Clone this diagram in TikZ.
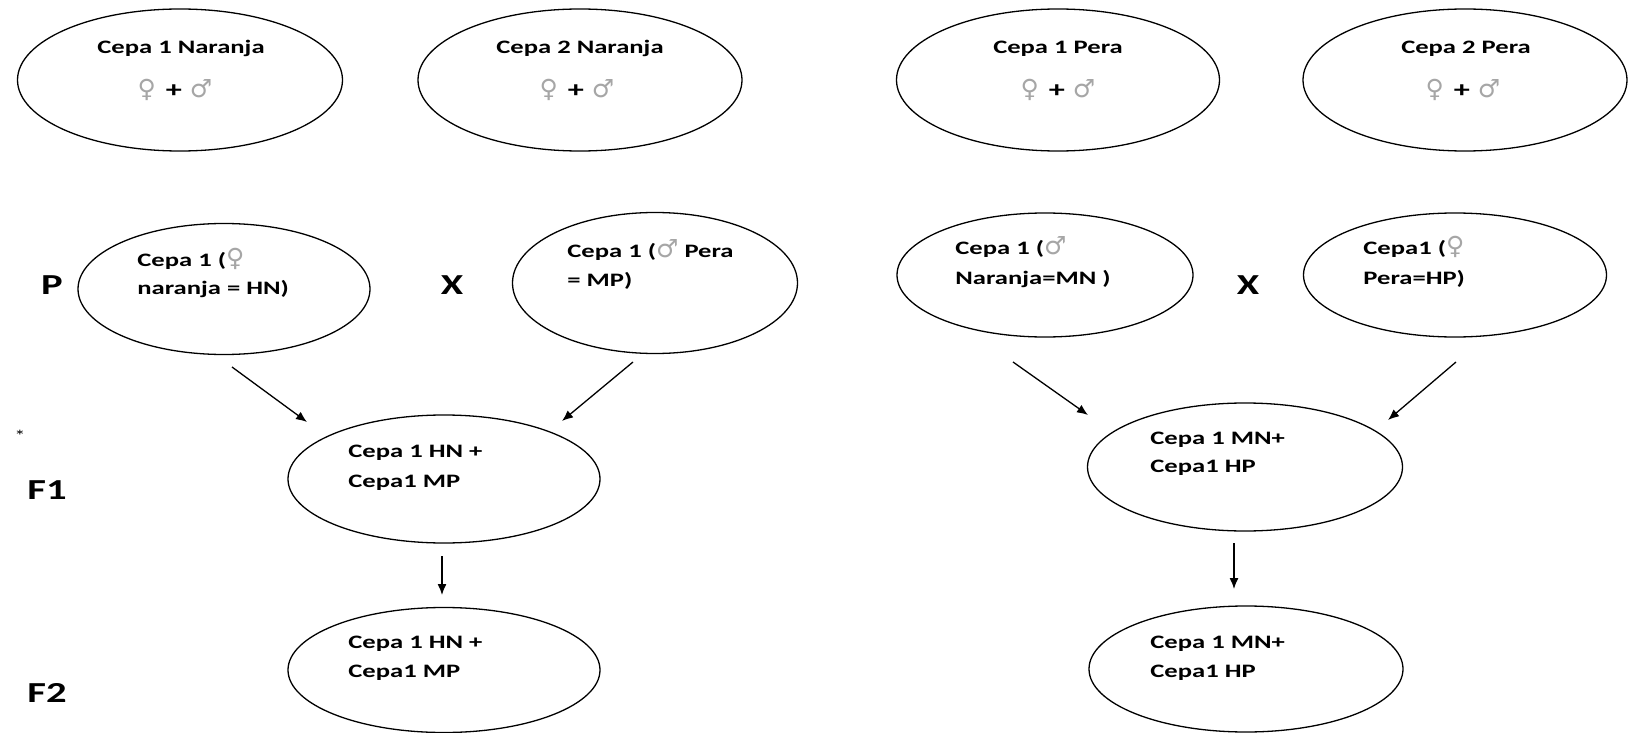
\documentclass[tikz,border=0pt]{standalone}
\usepackage{fontspec}
\setmainfont{Carlito}[FakeStretch=1.4]
\newfontfamily\symfont{DejaVu Sans}
\usetikzlibrary{shapes.geometric,arrows.meta}
\definecolor{symgray}{gray}{0.65}
\newcommand\femsym{{\symfont\fontsize{12.5}{14}\selectfont\color{symgray}\char"2640}}
\newcommand\malsym{{\symfont\fontsize{12.5}{14}\selectfont\color{symgray}\char"2642}}
\newcommand\pairsym{\femsym\hspace{5pt}{\fontsize{11.5}{14}\selectfont+}\hspace{4pt}\malsym}
\tikzset{
  oval/.style={draw=black, line width=0.65pt, ellipse, inner sep=0pt},
  body/.style={font=\fontsize{9.5}{14}\selectfont\bfseries, inner sep=0pt},
  ltext/.style={body, anchor=mid west},
  ctext/.style={body, anchor=mid},
  gen/.style={font=\fontsize{14.5}{17}\selectfont\bfseries, inner sep=0pt, anchor=mid},
  arr/.style={line width=0.65pt, -{Latex[length=5.5pt,width=4.5pt]}}
}
\begin{document}
\begin{tikzpicture}[x=0.5pt,y=-0.5pt]
\useasboundingbox[fill=white] (0,0) rectangle (1629,733);
% top row
\node[oval, minimum width=162.5pt, minimum height=71pt] (e1) at (180,80) {};
\node[oval, minimum width=162pt, minimum height=71pt] (e2) at (580,80) {};
\node[oval, minimum width=161.5pt, minimum height=71pt] (e3) at (1058,80) {};
\node[oval, minimum width=162pt, minimum height=71pt] (e4) at (1465,80) {};
\node[ctext] (t1) at (181,49) {Cepa 1 Naranja};
\node[ctext] (s1) at (175,93) {\pairsym};
\node[ctext] (t2) at (580,49) {Cepa 2 Naranja};
\node[ctext] (s2) at (577,93) {\pairsym};
\node[ctext] (t3) at (1058,49) {Cepa 1 Pera};
\node[ctext] (s3) at (1058,93) {\pairsym};
\node[ctext] (t4) at (1466,49) {Cepa 2 Pera};
\node[ctext] (s4) at (1463,93) {\pairsym};
% left cross
\node[gen] (lp) at (52,290) {P};
\node[gen] (lx) at (452,290) {X};
\node[gen] (lf1) at (47,495) {F1};
\node[gen] (lf2) at (47,698) {F2};
\node[font=\fontsize{8}{9}\selectfont, inner sep=0pt] (star) at (20,436) {*};
\node[oval, minimum width=146pt, minimum height=65.5pt] (pl) at (224,289) {};
\node[ltext] (pl1) at (137,262) {Cepa 1 (\femsym};
\node[ltext] (pl2) at (137,290) {naranja = HN)};
\node[oval, minimum width=142.5pt, minimum height=70.5pt] (pr) at (655,283) {};
\node[ltext] (pr1) at (567,253) {Cepa 1 (\malsym\ Pera};
\node[ltext] (pr2) at (567,282) {= MP)};
\node[oval, minimum width=156pt, minimum height=64pt] (f1l) at (444,479) {};
\node[ltext] (f1l1) at (348,453) {Cepa 1 HN +};
\node[ltext] (f1l2) at (348,483) {Cepa1 MP};
\node[oval, minimum width=156pt, minimum height=62.5pt] (f2l) at (444,670) {};
\node[ltext] (f2l1) at (348,644) {Cepa 1 HN +};
\node[ltext] (f2l2) at (348,673) {Cepa1 MP};
\coordinate (a1s) at (232,367); \coordinate (a1e) at (307,422);
\coordinate (a2s) at (633,362); \coordinate (a2e) at (562,421);
\coordinate (a3s) at (442,556); \coordinate (a3e) at (442,595);
\draw[arr] (a1s) -- (a1e);
\draw[arr] (a2s) -- (a2e);
\draw[arr] (a3s) -- (a3e);
% right cross
\node[gen] (rx) at (1248,290) {X};
\node[oval, minimum width=148pt, minimum height=62pt] (prl) at (1045,275) {};
\node[ltext] (prl1) at (955,250) {Cepa 1 (\malsym};
\node[ltext] (prl2) at (955,280) {Naranja=MN )};
\node[oval, minimum width=151.5pt, minimum height=62pt] (prr) at (1455,275) {};
\node[ltext] (prr1) at (1363,250) {Cepa1 (\femsym};
\node[ltext] (prr2) at (1363,280) {Pera=HP)};
\node[oval, minimum width=157.5pt, minimum height=64pt] (f1r) at (1245,467) {};
\node[ltext] (f1r1) at (1150,440) {Cepa 1 MN+};
\node[ltext] (f1r2) at (1150,468) {Cepa1 HP};
\node[oval, minimum width=157pt, minimum height=63pt] (f2r) at (1246,669) {};
\node[ltext] (f2r1) at (1150,644) {Cepa 1 MN+};
\node[ltext] (f2r2) at (1150,673) {Cepa1 HP};
\coordinate (b1s) at (1013,362); \coordinate (b1e) at (1088,415);
\coordinate (b2s) at (1456,362); \coordinate (b2e) at (1388,420);
\coordinate (b3s) at (1234,543); \coordinate (b3e) at (1234,589);
\draw[arr] (b1s) -- (b1e);
\draw[arr] (b2s) -- (b2e);
\draw[arr] (b3s) -- (b3e);
\end{tikzpicture}
\end{document}
